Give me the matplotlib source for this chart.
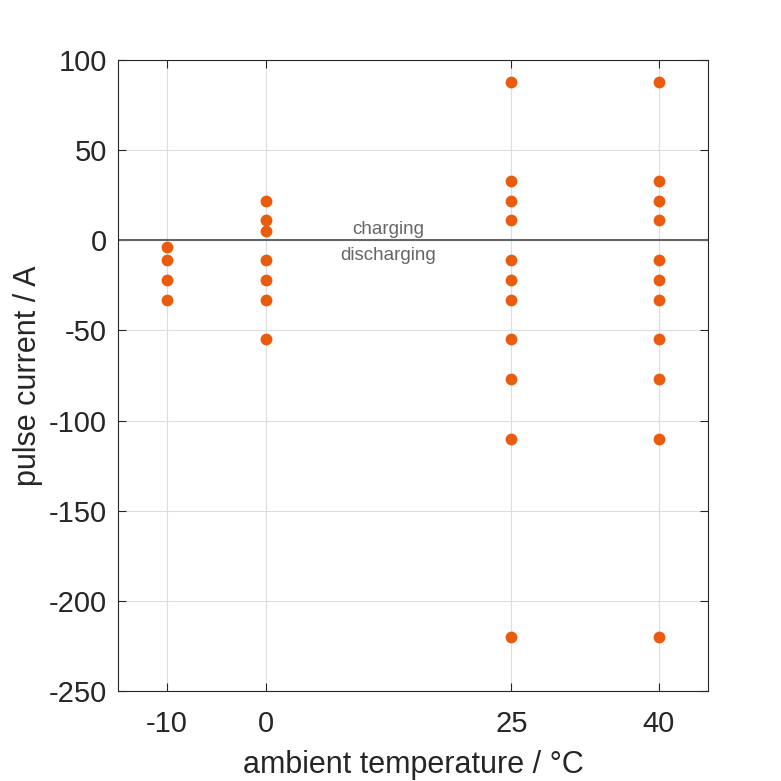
import matplotlib
matplotlib.use("Agg")
import matplotlib.pyplot as plt

plt.rcParams['font.family'] = ['Liberation Sans', 'DejaVu Sans']
plt.rcParams['axes.unicode_minus'] = False

temps = [-10, 0, 25, 40]
currents = {
    -10: [-4, -11, -22, -33],
    0: [22, 11, 5, -11, -22, -33, -55],
    25: [88, 33, 22, 11, -11, -22, -33, -55, -77, -110, -220],
    40: [88, 33, 22, 11, -11, -22, -33, -55, -77, -110, -220],
}
yticks = [100, 50, 0, -50, -100, -150, -200, -250]

fig = plt.figure(figsize=(7.81, 7.81), dpi=100)
ax = fig.add_axes([0.1511, 0.1152, 0.9065 - 0.1511, 0.9232 - 0.1152])

ax.axhline(0, color='#666666', lw=1.5, zorder=2)
for t in temps:
    ax.plot([t] * len(currents[t]), currents[t], 'o', color='#EA5B0C',
            markersize=8.5, markeredgewidth=0, zorder=3)

ax.text(12.5, 1.5, 'charging', ha='center', va='bottom', fontsize=13.5, color='#666666')
ax.text(12.5, -3.5, 'discharging', ha='center', va='top', fontsize=13.5, color='#666666')

ax.set_xlim(-15, 45)
ax.set_ylim(-250, 100)
ax.set_xticks(temps)
ax.set_yticks(yticks)
ax.grid(True, color='#dddddd', lw=0.8)
ax.set_axisbelow(True)
ax.tick_params(direction='in', top=True, right=True, labelsize=21, length=6, width=0.8,
               color='#262626', labelcolor='#262626')
ax.xaxis.set_tick_params(pad=14)
ax.yaxis.set_tick_params(pad=8)
for s in ax.spines.values():
    s.set_color('#262626')
    s.set_linewidth(0.8)
ax.set_xlabel('ambient temperature / °C', fontsize=22, labelpad=8.5, color='#262626')
ax.set_ylabel('pulse current / A', fontsize=22, labelpad=4, color='#262626')

fig.savefig('out.png', dpi=100)
